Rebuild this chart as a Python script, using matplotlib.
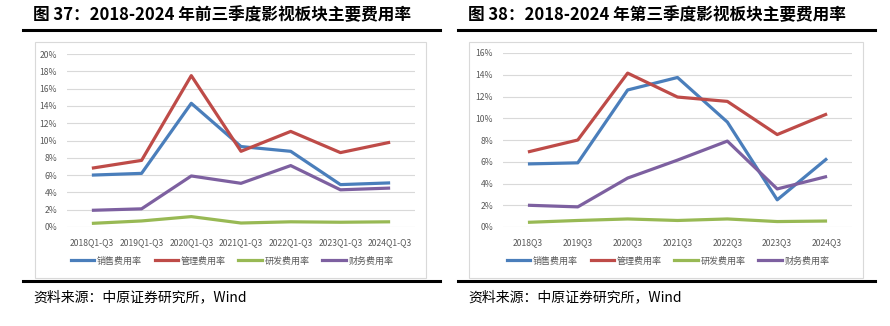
import matplotlib
matplotlib.use('Agg')
import matplotlib.pyplot as plt
from matplotlib.patches import Rectangle
from matplotlib.lines import Line2D
from matplotlib.ticker import FuncFormatter, MultipleLocator

plt.rcParams['font.family'] = ['Noto Sans CJK SC', 'DejaVu Sans']

# 数据
cats_q1q3 = ['2018Q1-Q3', '2019Q1-Q3', '2020Q1-Q3', '2021Q1-Q3', '2022Q1-Q3', '2023Q1-Q3', '2024Q1-Q3']
sales_q1q3 = [6.0, 6.2, 14.3, 9.3, 8.75, 4.9, 5.1]
admin_q1q3 = [6.8, 7.7, 17.5, 8.75, 11.05, 8.6, 9.8]
rnd_q1q3 = [0.42, 0.7, 1.2, 0.46, 0.6, 0.55, 0.6]
fin_q1q3 = [1.93, 2.1, 5.9, 5.05, 7.1, 4.3, 4.5]

cats_q3 = ['2018Q3', '2019Q3', '2020Q3', '2021Q3', '2022Q3', '2023Q3', '2024Q3']
sales_q3 = [5.8, 5.9, 12.6, 13.75, 9.65, 2.5, 6.3]
admin_q3 = [6.9, 8.0, 14.15, 11.95, 11.55, 8.5, 10.4]
rnd_q3 = [0.43, 0.6, 0.74, 0.6, 0.74, 0.5, 0.55]
fin_q3 = [2.0, 1.85, 4.5, 6.15, 7.9, 3.5, 4.65]

series_names = ['销售费用率', '管理费用率', '研发费用率', '财务费用率']
colors = ['#4A7EBB', '#BE4B48', '#98B954', '#7D60A0']

W, H = 890, 326
fig = plt.figure(figsize=(W / 100, H / 100), dpi=100)


def fx(px):
    return px / W


def fy(py):
    return 1 - py / H


def panel(title, x0, x1, box, ax_rect, cats, data, ymax, leg_cx):
    # 标题与黑线
    fig.text(fx(x0 + 10), fy(15), title, fontsize=12, fontweight='bold',
             ha='left', va='center', color='black')
    fig.add_artist(Line2D([fx(x0), fx(x1)], [fy(30), fy(30)], color='black', lw=2.2))
    fig.add_artist(Line2D([fx(x0), fx(x1)], [fy(281), fy(281)], color='black', lw=2.2))
    fig.text(fx(x0 + 10), fy(297), '资料来源：中原证券研究所，Wind', fontsize=10,
             ha='left', va='center', color='black')
    # 图表外框
    bx0, by0, bx1, by1 = box
    fig.add_artist(Rectangle((fx(bx0), fy(by1)), fx(bx1 - bx0), (by1 - by0) / H,
                             fill=False, edgecolor='#D9D9D9', lw=0.8))

    ax = fig.add_axes(ax_rect)
    x = range(len(cats))
    for vals, c in zip(data, colors):
        ax.plot(x, vals, color=c, lw=2.3, solid_capstyle='butt')
    ax.set_xlim(-0.5, len(cats) - 0.5)
    ax.set_ylim(0, ymax)
    ax.yaxis.set_major_locator(MultipleLocator(2))
    ax.yaxis.set_major_formatter(FuncFormatter(lambda v, p: f'{v:.0f}%'))
    ax.set_xticks(list(x))
    ax.set_xticklabels(cats)
    ax.grid(axis='y', color='#D9D9D9', lw=0.8)
    ax.set_axisbelow(True)
    for s in ax.spines.values():
        s.set_visible(False)
    ax.tick_params(axis='y', length=0, pad=7, labelsize=6.2, labelcolor='#595959')
    ax.tick_params(axis='x', length=0, pad=8, labelsize=6.2, labelcolor='#595959')

    handles = [Line2D([], [], color=c, lw=2.3) for c in colors]
    fig.legend(handles, series_names, loc='center', bbox_to_anchor=(fx(leg_cx), fy(261)),
               ncol=4, frameon=False, fontsize=6.5, handlelength=2.6, handletextpad=0.3,
               columnspacing=1.4, labelcolor='#595959')
    return ax


panel('图 37：2018-2024 年前三季度影视板块主要费用率', 23, 440, (35, 42, 426, 278),
      [fx(67), fy(227), fx(348), (227 - 54) / H], cats_q1q3,
      [sales_q1q3, admin_q1q3, rnd_q1q3, fin_q1q3], 20, 232)

panel('图 38：2018-2024 年第三季度影视板块主要费用率', 458, 875, (469, 42, 863, 278),
      [fx(503), fy(227), fx(349), (227 - 53) / H], cats_q3,
      [sales_q3, admin_q3, rnd_q3, fin_q3], 16, 668)

fig.savefig('out.png', dpi=100)
